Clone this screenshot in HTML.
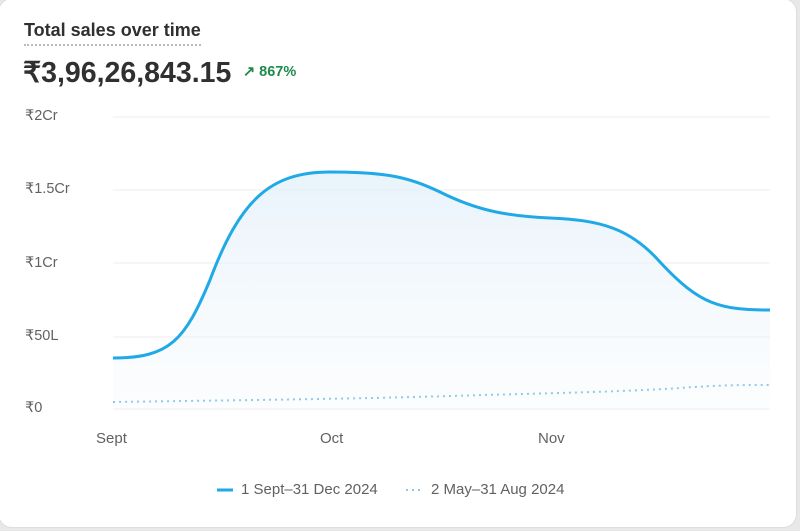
<!DOCTYPE html>
<html><head><meta charset="utf-8"><style>
html,body{margin:0;padding:0;width:800px;height:531px;background:#e8e8e8;overflow:hidden;font-family:"Liberation Sans",sans-serif}
.card{position:absolute;left:-2px;top:-2px;width:797px;height:528px;background:#fff;border:1px solid #ddd;border-radius:14px}
.t{position:absolute;left:24px;top:20px;font-size:18px;font-weight:bold;color:#303030;border-bottom:2px dotted #bbb;padding-bottom:3px}
.v{position:absolute;left:23px;top:56px;font-size:28.5px;font-weight:bold;color:#303030}
.p{position:absolute;left:243px;top:64px;font-size:14.5px;font-weight:bold;color:#1f8a4c}
.y{position:absolute;left:25px;font-size:14.5px;color:#616161}
.x{position:absolute;top:430px;font-size:15px;color:#616161}
.lg{position:absolute;top:481px;font-size:15px;color:#616161}
</style></head><body><div class="card"></div>
<div class="t">Total sales over time</div>
<div class="v">₹3,96,26,843.15</div>
<div class="p">↗ 867%</div>
<div class="y" style="top:108px">₹2Cr</div>
<div class="y" style="top:181px">₹1.5Cr</div>
<div class="y" style="top:255px">₹1Cr</div>
<div class="y" style="top:328px">₹50L</div>
<div class="y" style="top:400px">₹0</div>
<div class="x" style="left:96px">Sept</div>
<div class="x" style="left:320px">Oct</div>
<div class="x" style="left:538px">Nov</div>
<svg width="800" height="531" style="position:absolute;left:0;top:0">
<defs><linearGradient id="g" x1="0" y1="0" x2="0" y2="1"><stop offset="0" stop-color="#e3f0fa" stop-opacity=".8"/><stop offset="1" stop-color="#f4f8fc" stop-opacity=".3"/></linearGradient></defs>
<g stroke="#ececec" stroke-width="1">
<line x1="113" y1="117" x2="770" y2="117"/><line x1="113" y1="190" x2="770" y2="190"/><line x1="113" y1="263" x2="770" y2="263"/><line x1="113" y1="337" x2="770" y2="337"/><line x1="113" y1="409" x2="770" y2="409"/></g>
<path d="M113,358 C170,358 185,340 210,280 C240,200 270,172 330,172 C390,172 410,178 440,192 C480,212 510,216 550,218 C600,220 630,228 660,262 C700,305 720,310 770,310 L770,409 L113,409 Z" fill="url(#g)"/>
<path d="M113,358 C170,358 185,340 210,280 C240,200 270,172 330,172 C390,172 410,178 440,192 C480,212 510,216 550,218 C600,220 630,228 660,262 C700,305 720,310 770,310" fill="none" stroke="#1fa9e6" stroke-width="3"/>
<path d="M113,402 C250,400 350,399 450,396 C550,393 620,392 680,388 C720,385 740,385 770,385" fill="none" stroke="#8fcbe8" stroke-width="2" stroke-dasharray="2 4"/>
<line x1="217" y1="490" x2="233" y2="490" stroke="#1fa9e6" stroke-width="3"/>
<line x1="406" y1="490" x2="424" y2="490" stroke="#8fcbe8" stroke-width="2" stroke-dasharray="2 4"/>
</svg>
<div class="lg" style="left:241px">1 Sept–31 Dec 2024</div>
<div class="lg" style="left:431px">2 May–31 Aug 2024</div>
</body></html>
